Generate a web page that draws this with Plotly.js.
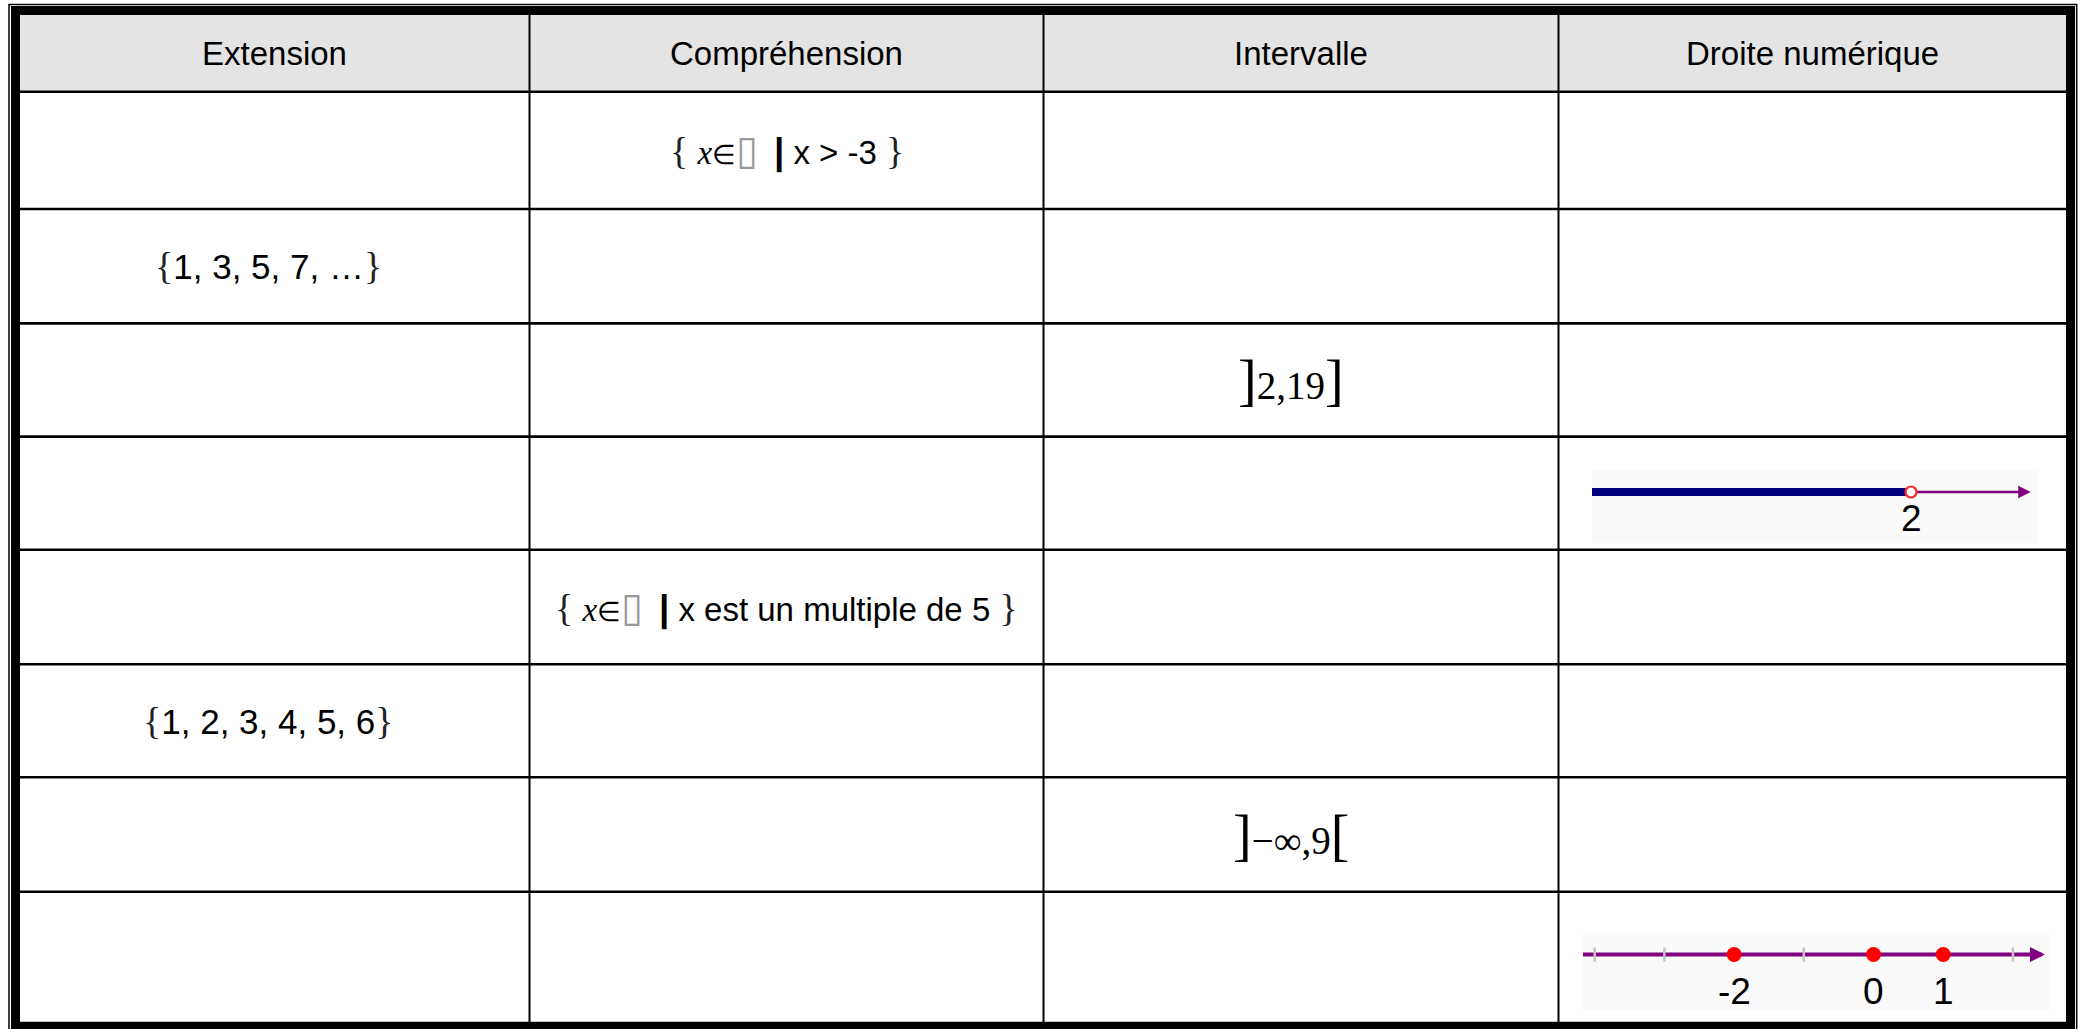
<!DOCTYPE html>
<html>
<head>
<meta charset="utf-8">
<script src="https://cdn.plot.ly/plotly-3.0.1.min.js"></script>
<style>html,body{margin:0;padding:0;background:#fff;overflow:hidden}</style>
</head>
<body>
<div id="chart" style="width:2087px;height:1029px"></div>
<script>
// ---------- data ----------
const headers = ["Extension", "Compréhension", "Intervalle", "Droite numérique"];
const extension = ["", "{1, 3, 5, 7, …}", "", "", "", "{1, 2, 3, 4, 5, 6}", "", ""];
const comprehension = ["{ x∈▯ | x > -3 }", "", "", "", "{ x∈▯ | x est un multiple de 5 }", "", "", ""];
const intervalle = ["", "", "]2,19]", "", "", "", "]−∞,9[", ""];

// number line 1 : open bound at 2, ray to the left
const ray1Bound = [2];
const ray1Labels = ["2"];
const ray1Extent = [-2.56, 3.71];

// number line 2 : isolated points
const points2 = [-2, 0, 1];
const points2Labels = ["-2", "0", "1"];
const ticks2 = [-4, -3, -2, -1, 0, 1, 2];
const line2Extent = [-4.17, 2.46];

// ---------- layout geometry ----------
const W = 2087, H = 1029;
const colEdges = [20, 529.5, 1043.5, 1558.5, 2066];
const colShift = [-6, 0, -10, 0];
const rowEdges = [15, 91.8, 209, 323.4, 436.6, 549.7, 664.2, 777.3, 891.8, 1022];
const px = x => x / W;
const py = y => 1 - y / H;

const SANS = "Liberation Sans, Arial, sans-serif";
const SERIF = "Liberation Serif, Times New Roman, serif";
const NARROW = "Liberation Sans Narrow, Arial Narrow, Liberation Sans, sans-serif";

function esc(s) { return s.replace(/&/g, "&amp;").replace(/</g, "&lt;").replace(/>/g, "&gt;"); }
function fmtSet(s) {
  let t = esc(s);
  t = t.replace(/[{}]/g, m => `<span style="font-family:${SERIF};font-size:38px;color:#222">${m}</span>`);
  t = t.replace("x∈▯", `<span style="font-family:${SERIF}"><i>x</i><span style="font-size:27px">∈</span></span><span style="font-family:DejaVu Sans;font-size:40px;color:#999">▯</span>`);
  t = t.replace(" | ", ` \u2009<span style="font-size:37px;font-weight:bold">|</span> `);
  return t;
}
function fmtInt(s) {
  return esc(s).replace(/[\[\]]/g, m => `<span style="font-size:56px">${m}</span>`);
}

const shapes = [];
const annotations = [];

// header fill
shapes.push({type: "rect", xref: "paper", yref: "paper", x0: px(20), x1: px(2066), y0: py(15), y1: py(91.8),
  fillcolor: "#e4e4e4", line: {width: 0}, layer: "below"});

// row lines
rowEdges.slice(1, -1).forEach(y => {
  shapes.push({type: "line", xref: "paper", yref: "paper", x0: px(20), x1: px(2066), y0: py(y), y1: py(y),
    line: {color: "#000", width: 2.6}});
});
// column lines
colEdges.slice(1, -1).forEach(x => {
  shapes.push({type: "line", xref: "paper", yref: "paper", x0: px(x), x1: px(x), y0: py(15), y1: py(1022),
    line: {color: "#000", width: 2}});
});
// outer frames
shapes.push({type: "rect", xref: "paper", yref: "paper", x0: px(9), x1: px(2076.7), y0: py(1045), y1: py(4.5),
  line: {color: "#000", width: 1.5}});
shapes.push({type: "rect", xref: "paper", yref: "paper", x0: px(15.5), x1: px(2070.5), y0: py(1026.3), y1: py(10.5),
  line: {color: "#000", width: 9}});

// number line backgrounds
shapes.push({type: "rect", xref: "x2 domain", yref: "y2 domain", x0: 0, x1: 1, y0: 0, y1: 1,
  fillcolor: "#fafafa", line: {width: 0}, layer: "below"});
shapes.push({type: "rect", xref: "x3 domain", yref: "y3 domain", x0: 0, x1: 1, y0: 0, y1: 1,
  fillcolor: "#fafafa", line: {width: 0}, layer: "below"});

// header texts
headers.forEach((h, c) => {
  annotations.push({xref: "paper", yref: "paper", x: px((colEdges[c] + colEdges[c + 1]) / 2),
    y: py((rowEdges[0] + rowEdges[1]) / 2), text: esc(h), showarrow: false, xanchor: "center", yanchor: "middle",
    font: {family: SANS, size: 33, color: "#000"}});
});

// body texts
function cell(col, row, text, font) {
  annotations.push({xref: "paper", yref: "paper", x: px((colEdges[col] + colEdges[col + 1]) / 2 + colShift[col]),
    y: py((rowEdges[row + 1] + rowEdges[row + 2]) / 2), text: text, showarrow: false,
    xanchor: "center", yanchor: "middle", font: font});
}
extension.forEach((t, r) => { if (t) cell(0, r, fmtSet(t), {family: SANS, size: 35, color: "#000"}); });
comprehension.forEach((t, r) => { if (t) cell(1, r, fmtSet(t), {family: SANS, size: 33, color: "#000"}); });
intervalle.forEach((t, r) => { if (t) cell(2, r, fmtInt(t), {family: SERIF, size: 39, color: "#000"}); });

// ---------- number line traces ----------
const traces = [];
const PURPLE = "#800080";
// line 1
traces.push({type: "scatter", mode: "lines", xaxis: "x2", yaxis: "y2",
  x: [ray1Extent[0], ray1Bound[0]], y: [0, 0], line: {color: "#000080", width: 8}, cliponaxis: false});
traces.push({type: "scatter", mode: "lines", xaxis: "x2", yaxis: "y2",
  x: [ray1Bound[0], ray1Extent[1] - 0.05], y: [0, 0], line: {color: PURPLE, width: 2.5}, cliponaxis: false});
traces.push({type: "scatter", mode: "markers", xaxis: "x2", yaxis: "y2",
  x: ray1Bound, y: ray1Bound.map(() => 0), cliponaxis: false,
  marker: {symbol: "circle", size: 11, color: "#fff", line: {color: "#ff2a2a", width: 2.2}}});
annotations.push({xref: "x2", yref: "y2", axref: "x2", ayref: "y2", x: ray1Extent[1], y: 0,
  ax: ray1Extent[1] - 0.15, ay: 0, text: "", showarrow: true, arrowhead: 2, arrowsize: 1.0, arrowwidth: 2.5,
  arrowcolor: PURPLE});
ray1Bound.forEach((v, i) => annotations.push({xref: "x2", yref: "y2", x: v, y: -2.6, text: ray1Labels[i],
  showarrow: false, xanchor: "center", yanchor: "middle", font: {family: NARROW, size: 37, color: "#000"}}));

// line 2
traces.push({type: "scatter", mode: "lines", xaxis: "x3", yaxis: "y3",
  x: [line2Extent[0], line2Extent[1] - 0.05], y: [0, 0], line: {color: PURPLE, width: 4}, cliponaxis: false});
traces.push({type: "scatter", mode: "markers", xaxis: "x3", yaxis: "y3",
  x: ticks2, y: ticks2.map(() => 0), cliponaxis: false,
  marker: {symbol: "line-ns", size: 10, line: {color: "#c4c4c4", width: 2.5}}});
traces.push({type: "scatter", mode: "markers", xaxis: "x3", yaxis: "y3",
  x: points2, y: points2.map(() => 0), cliponaxis: false,
  marker: {symbol: "circle", size: 15, color: "#ff0000", line: {width: 0}}});
annotations.push({xref: "x3", yref: "y3", axref: "x3", ayref: "y3", x: line2Extent[1], y: 0,
  ax: line2Extent[1] - 0.15, ay: 0, text: "", showarrow: true, arrowhead: 2, arrowsize: 0.75, arrowwidth: 4,
  arrowcolor: PURPLE});
points2.forEach((v, i) => annotations.push({xref: "x3", yref: "y3", x: v, y: -3.65, text: points2Labels[i],
  showarrow: false, xanchor: "center", yanchor: "middle", font: {family: NARROW, size: 37, color: "#000"}}));

const hidden = {visible: false, fixedrange: true, showgrid: false, zeroline: false};
const layout = {
  width: W, height: H, margin: {l: 0, r: 0, t: 0, b: 0, pad: 0},
  paper_bgcolor: "#fff", plot_bgcolor: "rgba(0,0,0,0)", showlegend: false, hovermode: false,
  xaxis2: Object.assign({domain: [px(1592), px(2038)], range: [-2.557, 3.814], anchor: "y2"}, hidden),
  yaxis2: Object.assign({domain: [py(543), py(470)], range: [-5.1, 2.2], anchor: "x2"}, hidden),
  xaxis3: Object.assign({domain: [px(1583), px(2050)], range: [-4.168, 2.532], anchor: "y3"}, hidden),
  yaxis3: Object.assign({domain: [py(1010), py(935)], range: [-5.55, 1.95], anchor: "x3"}, hidden),
  shapes: shapes, annotations: annotations
};
Plotly.newPlot("chart", traces, layout, {staticPlot: true, displayModeBar: false});
</script>
</body>
</html>
